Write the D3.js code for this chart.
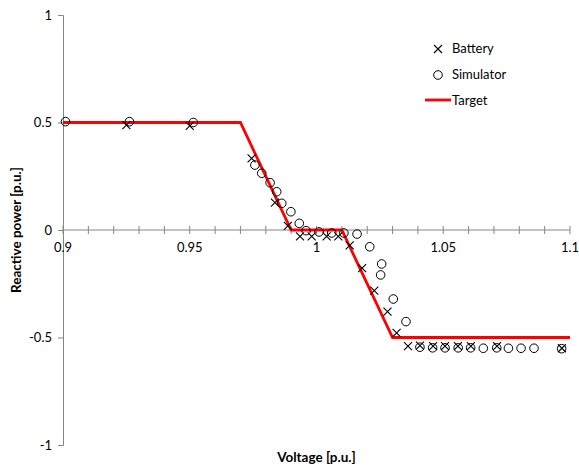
<!DOCTYPE html>
<html>
<head>
<meta charset="utf-8">
<script src="https://cdn.jsdelivr.net/npm/d3@7"></script>
<style>
  body { margin: 0; background: #fff; }
  text { font-family: Lato, "Open Sans", sans-serif; fill: #000; }
</style>
</head>
<body>
<div id="chart"></div>
<script>
// data
var batteryV = [0.925, 0.950, 0.9744, 0.9836, 0.9887, 0.9935, 0.9981, 1.004, 1.0086, 1.0131, 1.018, 1.0228, 1.028, 1.0316, 1.0361, 1.0408, 1.046, 1.0507, 1.0558, 1.0609, 1.0712, 1.0968];
var batteryQ = [0.488, 0.484, 0.333, 0.127, 0.019, -0.03, -0.03, -0.03, -0.03, -0.072, -0.177, -0.282, -0.38, -0.478, -0.54, -0.538, -0.54, -0.54, -0.54, -0.54, -0.54, -0.55];

var simV = [0.901, 0.9262, 0.9514, 0.9757, 0.9784, 0.9817, 0.9843, 0.9863, 0.9899, 0.9932, 0.9959, 1.001, 1.006, 1.0108, 1.016, 1.021, 1.0257, 1.0253, 1.0303, 1.0353, 1.0408, 1.0458, 1.0507, 1.0559, 1.0608, 1.0658, 1.0711, 1.0757, 1.0807, 1.0858, 1.0967];
var simQ = [0.504, 0.504, 0.50, 0.302, 0.264, 0.22, 0.178, 0.124, 0.085, 0.031, -0.003, -0.009, -0.014, -0.014, -0.019, -0.078, -0.158, -0.209, -0.321, -0.426, -0.545, -0.548, -0.548, -0.548, -0.548, -0.55, -0.548, -0.55, -0.55, -0.55, -0.552];

var targetV = [0.9, 0.97, 0.99, 1.01, 1.03, 1.1];
var targetQ = [0.5, 0.5, 0, 0, -0.5, -0.5];

var xTicks = [0.9, 0.95, 1, 1.05, 1.1];
var xMinor = d3.range(0, 21).map(function(i){ return 0.9 + i * 0.01; });
var yTicks = [-1, -0.5, 0, 0.5, 1];

var W = 579, H = 468;
var margin = {left: 63, right: 9, top: 15, bottom: 23};

var svg = d3.select("#chart").append("svg")
  .attr("width", W).attr("height", H);

var x = d3.scaleLinear().domain([0.9, 1.1]).range([margin.left, W - margin.right]);
var y = d3.scaleLinear().domain([-1, 1]).range([H - margin.bottom, margin.top]);

var axisColor = "#868686";

// y axis
var yAxis = svg.append("g")
  .attr("transform", "translate(" + x(0.9) + ",0)")
  .call(d3.axisLeft(y).tickValues(yTicks).tickSize(5).tickPadding(6)
    .tickFormat(function(d){ return String(d); }));
yAxis.select(".domain").attr("stroke", axisColor).attr("stroke-width", 1);
yAxis.selectAll(".tick line").attr("stroke", axisColor);
yAxis.selectAll("text").style("font-size", "13px").attr("fill", "#000");

// x axis at y = 0, with crossing minor ticks
var xAxisG = svg.append("g").attr("transform", "translate(0," + y(0) + ")");
xAxisG.append("line")
  .attr("x1", x(0.9)).attr("x2", x(1.1))
  .attr("stroke", axisColor);
xAxisG.selectAll("line.tk").data(xMinor).enter().append("line")
  .attr("class", "tk")
  .attr("x1", function(d){ return x(d); }).attr("x2", function(d){ return x(d); })
  .attr("y1", -4).attr("y2", 4)
  .attr("stroke", axisColor);
xAxisG.selectAll("text").data(xTicks).enter().append("text")
  .attr("x", function(d){ return x(d); })
  .attr("y", 22)
  .attr("text-anchor", "middle")
  .style("font-size", "13px")
  .text(function(d){ return String(d); });

// target line
var line = d3.line().x(function(d){ return x(d[0]); }).y(function(d){ return y(d[1]); });
svg.append("path")
  .datum(d3.zip(targetV, targetQ))
  .attr("d", line)
  .attr("fill", "none")
  .attr("stroke", "#ff0000")
  .attr("stroke-width", 2.8);

// simulator circles
svg.append("g").selectAll("circle").data(d3.zip(simV, simQ)).enter().append("circle")
  .attr("cx", function(d){ return x(d[0]); })
  .attr("cy", function(d){ return y(d[1]); })
  .attr("r", 4.3)
  .attr("fill", "none")
  .attr("stroke", "#000")
  .attr("stroke-width", 1);

// battery crosses
var cs = 4;
function cross(sel) {
  sel.attr("d", "M" + (-cs) + "," + (-cs) + "L" + cs + "," + cs + "M" + (-cs) + "," + cs + "L" + cs + "," + (-cs))
    .attr("fill", "none").attr("stroke", "#000").attr("stroke-width", 1.1);
}
svg.append("g").selectAll("path").data(d3.zip(batteryV, batteryQ)).enter().append("path")
  .attr("transform", function(d){ return "translate(" + x(d[0]) + "," + y(d[1]) + ")"; })
  .call(cross);

// legend
var lg = svg.append("g");
lg.append("path").attr("transform", "translate(438,49)").call(cross);
lg.append("text").attr("x", 452).attr("y", 53).style("font-size", "13px").text("Battery");
lg.append("circle").attr("cx", 438).attr("cy", 75).attr("r", 4.3)
  .attr("fill", "none").attr("stroke", "#000");
lg.append("text").attr("x", 452).attr("y", 79).style("font-size", "13px").text("Simulator");
lg.append("line").attr("x1", 425).attr("x2", 451).attr("y1", 100).attr("y2", 100)
  .attr("stroke", "#ff0000").attr("stroke-width", 2.8);
lg.append("text").attr("x", 452).attr("y", 105).style("font-size", "13px").text("Target");

// axis titles
svg.append("text")
  .attr("x", x(1)).attr("y", 462)
  .attr("text-anchor", "middle")
  .style("font-size", "13.5px").style("font-weight", "bold")
  .text("Voltage [p.u.]");
svg.append("text")
  .attr("transform", "translate(21," + y(0) + ") rotate(-90)")
  .attr("text-anchor", "middle")
  .style("font-size", "13.5px").style("font-weight", "bold")
  .text("Reactive power [p.u.]");
</script>
</body>
</html>
